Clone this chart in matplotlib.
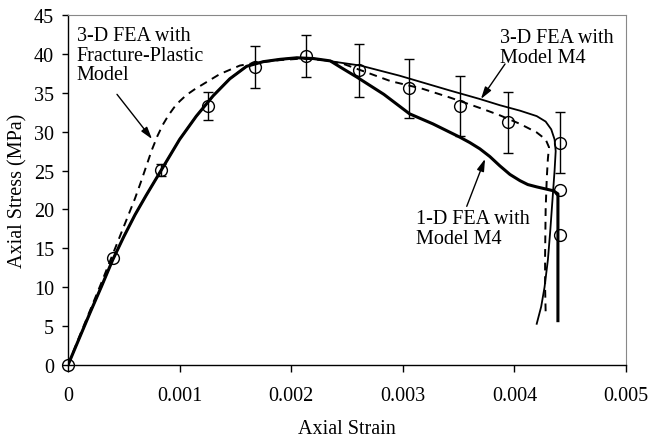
import numpy as np
import matplotlib
matplotlib.use("Agg")
import matplotlib.pyplot as plt

plt.rcParams['font.family'] = ['Liberation Serif', 'DejaVu Serif']
plt.rcParams['font.size'] = 14.5

# Experimental data (mean and scatter)
exp_strain = [0.0, 0.0004, 0.00083, 0.00125, 0.00168, 0.00213, 0.00261,
              0.00306, 0.00351, 0.00394, 0.00441, 0.00441, 0.00441]
exp_stress = [0.0, 13.7, 25.1, 33.3, 38.3, 39.7, 37.9,
              35.6, 33.3, 31.2, 28.6, 22.5, 16.7]
exp_err = [0.0, 0.0, 0.8, 1.8, 2.7, 2.7, 3.4,
           3.8, 3.9, 3.9, 3.9, 0.0, 0.0]

# 3-D FEA with fracture-plastic model
fp_strain = [0.0, 0.0001, 0.0002, 0.0003, 0.0004, 0.0005, 0.0006, 0.00065,
             0.0007, 0.00075, 0.0008, 0.00085, 0.0009, 0.00095, 0.001,
             0.00106, 0.00113, 0.00121, 0.00136, 0.00154, 0.0017, 0.0019,
             0.0021, 0.0023, 0.00247, 0.00268, 0.00289, 0.00318, 0.00342,
             0.00372, 0.00387, 0.00405, 0.0042, 0.00428, 0.00431, 0.0043,
             0.00429, 0.00428, 0.004275, 0.004275, 0.00428]
fp_stress = [0.0, 3.6, 7.1, 10.6, 14.2, 17.8, 21.4, 23.4,
             25.5, 27.6, 29.4, 30.9, 32.1, 33.1, 33.9,
             34.7, 35.4, 36.1, 37.4, 38.5, 38.9, 39.2,
             39.4, 39.2, 38.7, 37.6, 36.5, 35.5, 34.4,
             32.9, 32.1, 31.0, 29.9, 29.0, 28.0, 26.5,
             24.0, 20.0, 14.0, 10.0, 6.8]

# 3-D FEA with Model M4
m3_strain = [0.0, 0.0001, 0.0002, 0.0003, 0.0004, 0.0005, 0.0006, 0.0007,
             0.0008, 0.0009, 0.001, 0.00115, 0.0013, 0.00145, 0.0016,
             0.00175, 0.0019, 0.00205, 0.0022, 0.00238, 0.00262, 0.00297,
             0.00342, 0.00369, 0.00387, 0.00405, 0.0042, 0.00428, 0.00433,
             0.00436, 0.00437, 0.00436, 0.00434, 0.00432, 0.0043, 0.00427,
             0.00424, 0.0042]
m3_stress = [0.0, 3.4, 6.8, 10.1, 13.5, 16.5, 19.3, 21.8,
             24.2, 26.6, 29.0, 32.0, 34.6, 36.8, 38.4,
             39.0, 39.3, 39.5, 39.4, 39.0, 38.5, 37.2,
             35.3, 34.2, 33.4, 32.7, 32.0, 31.3, 30.3,
             29.0, 27.5, 25.0, 21.0, 17.0, 13.5, 10.0,
             7.5, 5.3]

# 1-D FEA with Model M4
m1_strain = [0.0, 0.0001, 0.0002, 0.0003, 0.0004, 0.0005, 0.0006, 0.0007,
             0.0008, 0.0009, 0.001, 0.00115, 0.0013, 0.00145, 0.0016,
             0.00175, 0.0019, 0.00205, 0.0022, 0.00235, 0.00244, 0.00259,
             0.00283, 0.00306, 0.00327, 0.00351, 0.0036, 0.00369, 0.00378,
             0.00387, 0.00396, 0.00405, 0.00412, 0.0042, 0.00435, 0.00439,
             0.00439]
m1_stress = [0.0, 3.4, 6.8, 10.1, 13.5, 16.5, 19.3, 21.8,
             24.2, 26.6, 29.0, 32.0, 34.6, 36.8, 38.4,
             39.0, 39.3, 39.5, 39.4, 39.1, 38.3, 37.0,
             34.8, 32.3, 31.0, 29.3, 28.6, 27.8, 26.8,
             25.6, 24.5, 23.7, 23.2, 22.9, 22.4, 22.0,
             5.7]

x_ticks = [0, 0.001, 0.002, 0.003, 0.004, 0.005]
x_tick_labels = ['0', '0.001', '0.002', '0.003', '0.004', '0.005']
y_ticks = [0, 5, 10, 15, 20, 25, 30, 35, 40, 45]

fig = plt.figure(figsize=(6.48, 4.39), dpi=100)
ax = fig.add_axes([68 / 648, 73 / 439, 558 / 648, 350 / 439])

ax.plot(m1_strain, m1_stress, color='black', lw=2.2, solid_joinstyle='round', zorder=3)
ax.plot(m3_strain, m3_stress, color='black', lw=1.3, solid_joinstyle='round', zorder=3)
ax.plot(fp_strain, fp_stress, color='black', lw=1.4, linestyle=(0, (4, 3)), zorder=3)

es = np.array(exp_strain)
ey = np.array(exp_stress)
ee = np.array(exp_err)
has_err = ee > 0
ax.errorbar(es[has_err], ey[has_err], yerr=ee[has_err], fmt='none',
            ecolor='black', elinewidth=1.0, capsize=3.5, capthick=1.0, zorder=4)
ax.plot(es, ey, linestyle='none', marker='o', markersize=8.5,
        markerfacecolor='none', markeredgecolor='black', markeredgewidth=1.0,
        zorder=5, clip_on=False)

ax.set_xlim(0, 0.005)
ax.set_ylim(0, 45)
ax.set_xticks(x_ticks)
ax.set_xticklabels(x_tick_labels)
ax.set_yticks(y_ticks)
ax.tick_params(axis='x', direction='out', length=5, width=1, pad=10)
ax.tick_params(axis='y', direction='out', length=4, width=1, pad=6)

for side in ('top', 'right'):
    ax.spines[side].set_linestyle((0, (1, 1)))
    ax.spines[side].set_color('#888888')
    ax.spines[side].set_linewidth(0.8)
for side in ('left', 'bottom'):
    ax.spines[side].set_color('black')
    ax.spines[side].set_linewidth(1.0)

ax.set_xlabel('Axial Strain', labelpad=10)
ax.set_ylabel('Axial Stress (MPa)', labelpad=5)

arrow = dict(arrowstyle='-|>,head_length=0.5,head_width=0.15', color='black', lw=1.0,
             shrinkA=0, shrinkB=0)

ax.text(0.00008, 43.6, '3-D FEA with\nFracture-Plastic\nModel', ha='left', va='top',
        linespacing=1.05)
ax.annotate('', xy=(0.000753, 29.05), xytext=(0.000439, 34.8), arrowprops=arrow)

ax.text(0.00387, 43.3, '3-D FEA with\nModel M4', ha='left', va='top', linespacing=1.05)
ax.annotate('', xy=(0.0037, 34.2), xytext=(0.003916, 38.7), arrowprops=arrow)

ax.text(0.00312, 20.0, '1-D FEA with\nModel M4', ha='left', va='top', linespacing=1.05)
ax.annotate('', xy=(0.003737, 26.5), xytext=(0.003573, 20.4), arrowprops=arrow)

fig.savefig('out.png', dpi=100)
